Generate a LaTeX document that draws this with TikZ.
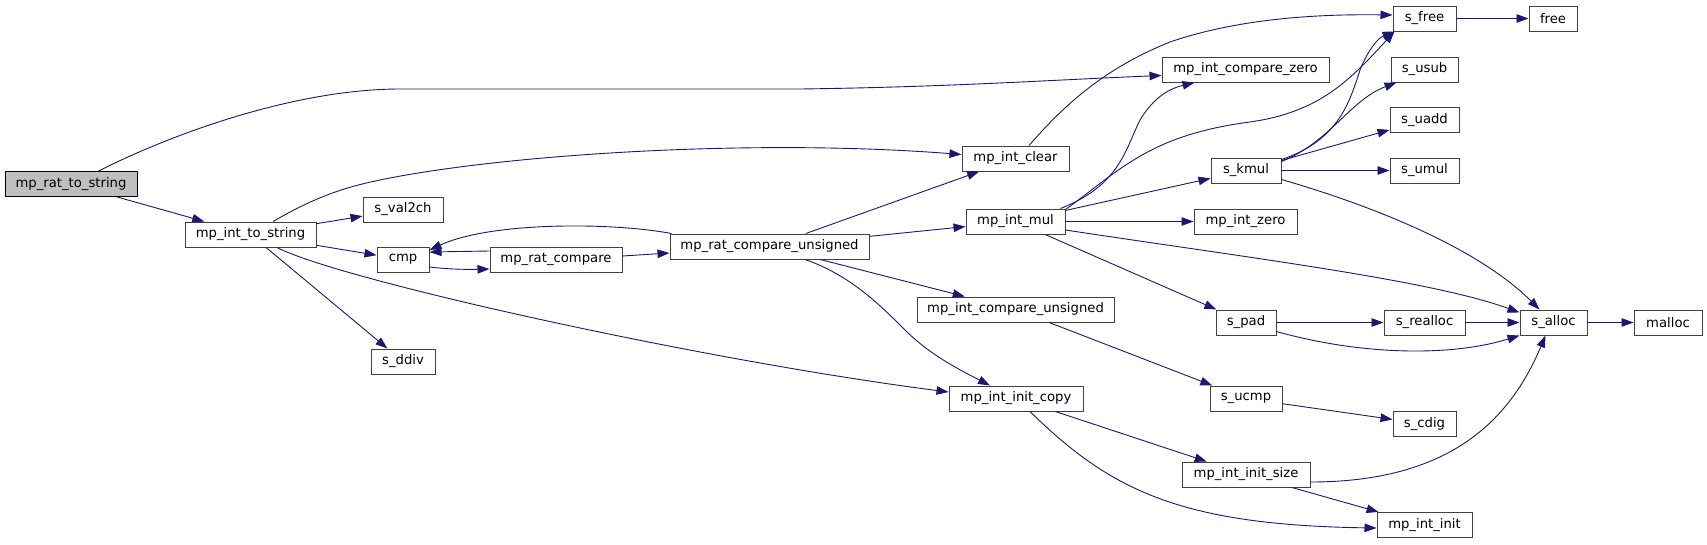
\documentclass[tikz,border=0pt]{standalone}
\usepackage{fontspec}
\setmainfont{DejaVu Sans}
\usetikzlibrary{arrows.meta,calc}
\definecolor{edgeblue}{HTML}{191970}
\definecolor{boxline}{HTML}{404040}
\definecolor{rootfill}{HTML}{BFBFBF}
\begin{document}
\begin{tikzpicture}[x=1pt,y=-1pt,
  fnbox/.style={draw=boxline,line width=1pt,fill=white,rectangle,inner sep=0pt,
     minimum height=25pt,font=\fontsize{13.2}{16}\selectfont,text=black},
  rootbox/.style={fnbox,fill=rootfill,draw=black},
  callarrow/.style={draw=edgeblue,line width=0.9pt,-{Triangle[length=12pt,width=8.5pt]},fill=none}
]
\useasboundingbox (0,0) rectangle (1707,544);
\fill[white] (0,0) rectangle (1707,544);
% nodes
\node[rootbox,minimum width=132pt] (rts) at (71,184) {mp\_rat\_to\_string};
\node[fnbox,minimum width=131pt] (its) at (250.5,234.5) {mp\_int\_to\_string};
\node[fnbox,minimum width=80pt] (val2ch) at (403,209.5) {s\_val2ch};
\node[fnbox,minimum width=52pt] (cmp) at (403,259.5) {cmp};
\node[fnbox,minimum width=64pt] (ddiv) at (403,361.5) {s\_ddiv};
\node[fnbox,minimum width=132pt] (rc) at (556,259.5) {mp\_rat\_compare};
\node[fnbox,minimum width=199pt] (rcu) at (769.5,246.5) {mp\_rat\_compare\_unsigned};
\node[fnbox,minimum width=107pt] (clear) at (1015.5,158.5) {mp\_int\_clear};
\node[fnbox,minimum width=99pt] (mul) at (1015.5,221.5) {mp\_int\_mul};
\node[fnbox,minimum width=197pt] (icu) at (1015.5,309.5) {mp\_int\_compare\_unsigned};
\node[fnbox,minimum width=134pt] (copy) at (1016,398.5) {mp\_int\_init\_copy};
\node[fnbox,minimum width=167pt] (czero) at (1245.5,69.5) {mp\_int\_compare\_zero};
\node[fnbox,minimum width=70pt] (kmul) at (1246,170.5) {s\_kmul};
\node[fnbox,minimum width=103pt] (zero) at (1245.5,221.5) {mp\_int\_zero};
\node[fnbox,minimum width=60pt] (pad) at (1246,322.5) {s\_pad};
\node[fnbox,minimum width=72pt] (ucmp) at (1246,398.5) {s\_ucmp};
\node[fnbox,minimum width=128pt] (size) at (1246,474.5) {mp\_int\_init\_size};
\node[fnbox,minimum width=63pt] (sfree) at (1424.5,18.5) {s\_free};
\node[fnbox,minimum width=67pt] (usub) at (1424.5,69.5) {s\_usub};
\node[fnbox,minimum width=69pt] (uadd) at (1424.5,120) {s\_uadd};
\node[fnbox,minimum width=69pt] (umul) at (1424.5,170.5) {s\_umul};
\node[fnbox,minimum width=81pt] (realloc) at (1424.5,322.5) {s\_realloc};
\node[fnbox,minimum width=63pt] (cdig) at (1424.5,424) {s\_cdig};
\node[fnbox,minimum width=95pt] (init) at (1424.5,525) {mp\_int\_init};
\node[fnbox,minimum width=48pt] (free) at (1553,18.5) {free};
\node[fnbox,minimum width=67pt] (alloc) at (1553.5,322.5) {s\_alloc};
\node[fnbox,minimum width=68pt] (malloc) at (1668,322.5) {malloc};
% edges
\path[callarrow] ($(rts.north west)+(94,0)$) .. controls (180,130) and (300,89) .. (400,89)
   -- (800,89) .. controls (950,87) and (1050,80) .. ($(czero.west)+(0,6)$);
\path[callarrow] (rts) -- (its);
\path[callarrow] ($(its.north)+(22.5,0)$) .. controls (310,200) and (340,188) .. (380,180)
   .. controls (500,155) and (750,138) .. ($(clear.west)+(0,-4)$);
\path[callarrow] (its) -- (val2ch);
\path[callarrow] (its) -- (cmp);
\path[callarrow] (its) -- (ddiv);
\path[callarrow] ($(its.south)+(26.5,0)$) .. controls (340,280) and (700,360) .. ($(copy.west)+(0,-6.5)$);
\path[callarrow] ($(cmp.east)+(0,7.5)$) .. controls (450,269.5) and (470,269.5) .. ($(rc.west)+(0,9.5)$);
\path[callarrow] ($(rc.west)+(0,-8.5)$) -- ($(cmp.east)+(0,-7.5)$);
\path[callarrow] ($(rc.east)+(0,-3.5)$) -- ($(rcu.west)+(0,6.5)$);
\path[callarrow] ($(rcu.north west)+(2,0)$) .. controls (610,222) and (490,222) .. ($(cmp.east)+(0,-9.5)$);
\path[callarrow] (rcu) -- (clear);
\path[callarrow] (rcu) -- (mul);
\path[callarrow] (rcu) -- (icu);
\path[callarrow] ($(rcu.south)+(35.5,0)$) .. controls (850,275) and (880,305) .. (905,330)
   .. controls (930,355) and (960,370) .. ($(copy.north)+(-26,0)$);
\path[callarrow] ($(clear.north)+(13.5,0)$) .. controls (1060,110) and (1100,70) .. (1170,42)
   .. controls (1240,18) and (1320,14) .. ($(sfree.west)+(0,-3.5)$);
\path[callarrow] ($(mul.north east)+(-5,0)$) .. controls (1120,185) and (1125,150) .. (1140,120)
   .. controls (1155,95) and (1172,88) .. ($(czero.south west)+(33,0)$);
\path[callarrow] ($(mul.north east)+(0,1)$) .. controls (1120,170) and (1150,135) .. (1250,122)
   .. controls (1320,112) and (1350,80) .. ($(sfree.south west)+(2,0)$);
\path[callarrow] (mul) -- (kmul);
\path[callarrow] (mul) -- (zero);
\path[callarrow] ($(mul.east)+(0,8.5)$) .. controls (1250,258) and (1430,280) .. ($(alloc.north west)+(0,3)$);
\path[callarrow] (mul) -- (pad);
\path[callarrow] ($(kmul.north east)+(0,2)$) .. controls (1340,140) and (1350,100) .. (1360,70)
   .. controls (1368,50) and (1378,38) .. ($(sfree.south west)+(2,0)$);
\path[callarrow] ($(kmul.north east)+(0,4)$) .. controls (1330,142) and (1350,100) .. ($(usub.south west)+(6,0)$);
\path[callarrow] (kmul) -- (uadd);
\path[callarrow] (kmul) -- (umul);
\path[callarrow] ($(kmul.south east)+(0,-4)$) .. controls (1380,208) and (1480,250) .. ($(alloc.north)+(-14,0)$);
\path[callarrow] (sfree) -- (free);
\path[callarrow] (pad) -- (realloc);
\path[callarrow] ($(pad.south east)+(0,-4)$) .. controls (1360,355) and (1450,357) .. ($(alloc.south west)+(0,0)$);
\path[callarrow] (realloc) -- (alloc);
\path[callarrow] (alloc) -- (malloc);
\path[callarrow] (icu) -- (ucmp);
\path[callarrow] (ucmp) -- (cdig);
\path[callarrow] (copy) -- (size);
\path[callarrow] ($(copy.south)+(14,0)$) .. controls (1110,490) and (1180,525) .. ($(init.west)+(0,3)$);
\path[callarrow] ($(size.east)+(0,7.5)$) .. controls (1450,482) and (1510,420) .. ($(alloc.south)+(-8,0)$);
\path[callarrow] (size) -- (init);
\end{tikzpicture}
\end{document}
